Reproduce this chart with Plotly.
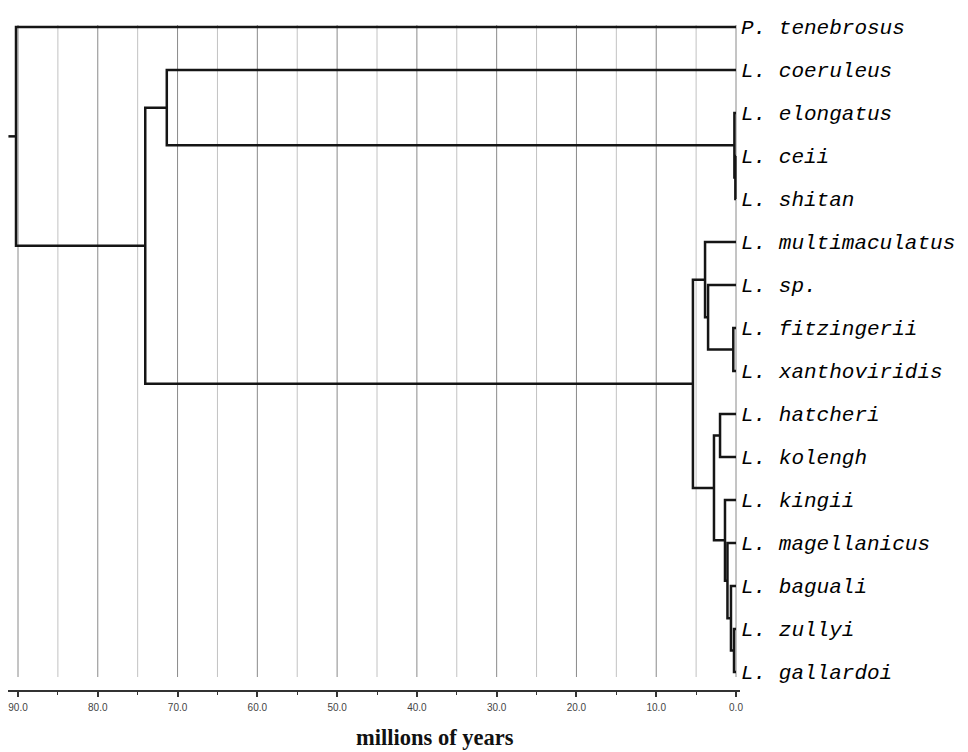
import plotly.graph_objects as go

# ---- data -------------------------------------------------------------
taxa = [
    "P. tenebrosus", "L. coeruleus", "L. elongatus", "L. ceii", "L. shitan",
    "L. multimaculatus", "L. sp.", "L. fitzingerii", "L. xanthoviridis",
    "L. hatcheri", "L. kolengh", "L. kingii", "L. magellanicus",
    "L. baguali", "L. zullyi", "L. gallardoi",
]
# internal nodes: name, age (millions of years), children (pairs)
node_names = ["root", "A", "B", "D", "E", "C", "F", "G", "H",
              "N1", "I", "N2", "N3", "N4", "N5"]
node_ages = [90.25, 74.05, 71.35, 0.2, 0.08, 5.4, 3.88, 3.5, 0.34,
             2.76, 2.0, 1.38, 1.07, 0.63, 0.25]
node_children = [
    ("P. tenebrosus", "A"),
    ("B", "C"),
    ("L. coeruleus", "D"),
    ("L. elongatus", "E"),
    ("L. ceii", "L. shitan"),
    ("F", "N1"),
    ("L. multimaculatus", "G"),
    ("L. sp.", "H"),
    ("L. fitzingerii", "L. xanthoviridis"),
    ("I", "N2"),
    ("L. hatcheri", "L. kolengh"),
    ("L. kingii", "N3"),
    ("L. magellanicus", "N4"),
    ("L. baguali", "N5"),
    ("L. zullyi", "L. gallardoi"),
]
root_stem_age = 91.2
tip_age = 0.0
axis_ticks = [90, 80, 70, 60, 50, 40, 30, 20, 10, 0]
minor_step = 5
axis_title = "millions of years"

# ---- tree geometry ----------------------------------------------------
age = {t: tip_age for t in taxa}
age.update(dict(zip(node_names, node_ages)))
children = dict(zip(node_names, node_children))
ypos = {t: i for i, t in enumerate(taxa)}


def get_y(n):
    if n not in ypos:
        c0, c1 = children[n]
        ypos[n] = (get_y(c0) + get_y(c1)) / 2
    return ypos[n]


get_y("root")

xs, ys = [], []
xs += [root_stem_age, age["root"], None]
ys += [ypos["root"], ypos["root"], None]
for n in node_names:
    c0, c1 = children[n]
    xs += [age[c0], age[n], age[n], age[c1], None]
    ys += [ypos[c0], ypos[c0], ypos[c1], ypos[c1], None]

# ---- pixel layout (page body has an 8px margin) -------------------------
OFF = 8
W, H = 968 - OFF, 752 - OFF


def fx(px):
    return px - OFF


px_per_ma = (736 - 18) / 90.0
row_px = 43.0
plot_l, plot_r = fx(8), fx(740)
plot_t, plot_b = fx(25), fx(690)
ml, mr, mt, mb = plot_l, W - plot_r, plot_t, H - plot_b
plot_w = plot_r - plot_l
plot_h = plot_b - plot_t
x_left = 90 + (fx(18) - plot_l) / px_per_ma
x_right = -(plot_r - fx(736)) / px_per_ma
y_top = -(fx(27) - plot_t) / row_px
y_bottom = 15 + (plot_b - fx(672)) / row_px
grid_end = 15 + 5 / row_px

# gridlines (major at labelled ticks, minor halfway between)
major_x, major_y, minor_x, minor_y = [], [], [], []
for t in axis_ticks:
    major_x += [t, t, None]
    major_y += [y_top, grid_end, None]
    m = t + minor_step
    if m < max(axis_ticks):
        minor_x += [m, m, None]
        minor_y += [y_top, grid_end, None]

fig = go.Figure()
fig.add_trace(go.Scatter(x=minor_x, y=minor_y, mode="lines",
                         line=dict(color="#c2c2c2", width=1),
                         hoverinfo="skip", showlegend=False))
fig.add_trace(go.Scatter(x=major_x, y=major_y, mode="lines",
                         line=dict(color="#8a8a8a", width=1),
                         hoverinfo="skip", showlegend=False))
fig.add_trace(go.Scatter(x=xs, y=ys, mode="lines",
                         line=dict(color="#151515", width=2.5),
                         hoverinfo="skip", showlegend=False))

fig.update_layout(
    template="none",
    width=W, height=H, autosize=False,
    margin=dict(l=ml, r=mr, t=mt, b=mb, pad=0, autoexpand=False),
    paper_bgcolor="white", plot_bgcolor="white",
    xaxis=dict(
        range=[x_left, x_right], domain=[0, 1], automargin=False,
        showgrid=False, zeroline=False,
        showline=True, linecolor="#333333", linewidth=1.5,
        ticks="outside", ticklen=5, tickwidth=1.5, tickcolor="#333333",
        tickvals=axis_ticks, tickformat=".1f",
        minor=dict(dtick=minor_step, tick0=0, ticks="outside", ticklen=3,
                   tickwidth=1, tickcolor="#333333"),
        tickfont=dict(family="Liberation Sans, Arial, sans-serif", size=10, color="#444444"),
        ticklabelstandoff=2,
    ),
    yaxis=dict(
        range=[y_bottom, y_top], domain=[0, 1], automargin=False,
        side="right", showgrid=False, zeroline=False, showline=False,
        ticks="", tickvals=list(range(len(taxa))), ticktext=taxa,
        tickfont=dict(family="Liberation Mono", size=21, color="#000000", style="italic"),
        ticklabelstandoff=0,
    ),
    annotations=[dict(
        text=axis_title, xref="paper", yref="paper",
        x=(fx(435) - plot_l) / plot_w, y=(plot_b - fx(737)) / plot_h,
        xanchor="center", yanchor="middle", showarrow=False,
        font=dict(family="Liberation Serif, Times New Roman, serif", size=22.5,
                  color="#111111", weight="bold"),
    )],
)

fig.write_html("out.html")
